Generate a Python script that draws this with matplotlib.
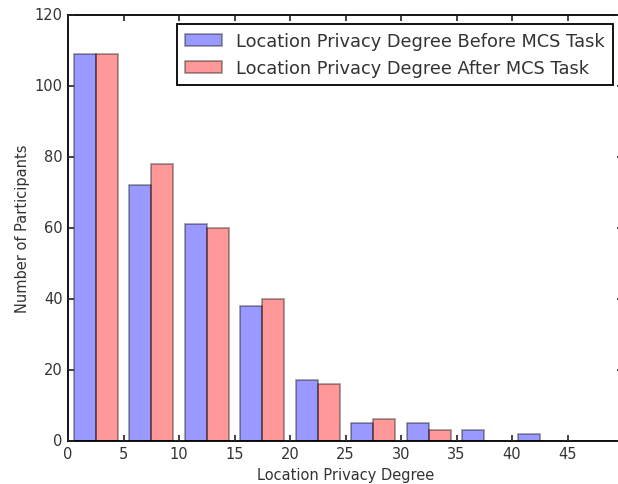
import numpy as np
import matplotlib
matplotlib.use("Agg")
import matplotlib.pyplot as plt

plt.style.use("classic")
plt.rcParams["font.family"] = ["DejaVu Sans"]

# Histogram bins of the location privacy degree and participant counts per bin
bin_edges = [0, 5, 10, 15, 20, 25, 30, 35, 40, 45, 50]
before_counts = [109, 72, 61, 38, 17, 5, 5, 3, 2, 0]
after_counts = [109, 78, 60, 40, 16, 6, 3, 0, 0, 0]
series_labels = ["Location Privacy Degree Before MCS Task",
                 "Location Privacy Degree After MCS Task"]
series_colors = ["blue", "red"]
x_ticks = [0, 5, 10, 15, 20, 25, 30, 35, 40, 45]
y_ticks = [0, 20, 40, 60, 80, 100, 120]

fig = plt.figure(figsize=(6.18, 4.85), dpi=100, facecolor="white")
left_px, right_px, top_px, bottom_px = 68, 623, 15.7, 441.7
ax = fig.add_axes([left_px / 618, 1 - bottom_px / 485,
                   (right_px - left_px) / 618, (bottom_px - top_px) / 485])

edges = np.array(bin_edges, dtype=float)
centers = (edges[:-1] + edges[1:]) / 2
ax.hist([centers, centers], bins=edges, weights=[before_counts, after_counts],
        color=series_colors, alpha=0.4, label=series_labels, linewidth=1.2)

ax.set_xlim(edges[0], edges[-1])
ax.set_ylim(0, 120)
ax.set_xticks(x_ticks)
ax.set_yticks(y_ticks)
ax.tick_params(labelsize=10.5, colors="#222222", labelcolor="#333333", width=1.2)
for spine in ax.spines.values():
    spine.set_linewidth(1.3)

ax.set_xlabel("Location Privacy Degree", fontsize=10.5, color="#333333", labelpad=4)
ax.set_ylabel("Number of Participants", fontsize=10.5, color="#333333", labelpad=3)

leg = ax.legend(loc="upper right", fontsize=12.8, frameon=True, fancybox=False,
                borderaxespad=0.55, labelspacing=0.5, borderpad=0.45,
                handlelength=2.1)
leg.get_frame().set_edgecolor("black")
leg.get_frame().set_linewidth(1.3)
for t in leg.get_texts():
    t.set_color("#333333")

fig.savefig("out.png", dpi=100, facecolor="white")
